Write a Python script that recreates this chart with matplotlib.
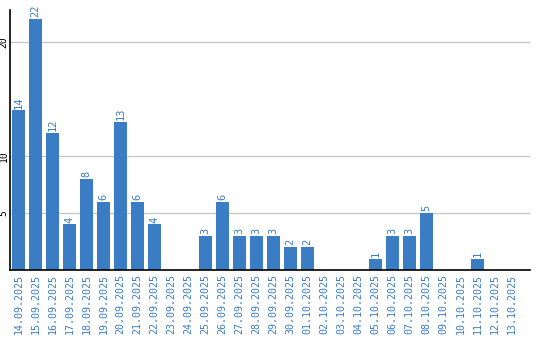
import matplotlib
matplotlib.use('Agg')
import matplotlib.pyplot as plt
import numpy as np

dates = ['14.09.2025', '15.09.2025', '16.09.2025', '17.09.2025', '18.09.2025',
         '19.09.2025', '20.09.2025', '21.09.2025', '22.09.2025', '23.09.2025',
         '24.09.2025', '25.09.2025', '26.09.2025', '27.09.2025', '28.09.2025',
         '29.09.2025', '30.09.2025', '01.10.2025', '02.10.2025', '03.10.2025',
         '04.10.2025', '05.10.2025', '06.10.2025', '07.10.2025', '08.10.2025',
         '09.10.2025', '10.10.2025', '11.10.2025', '12.10.2025', '13.10.2025']
counts = [14, 22, 12, 4, 8, 6, 13, 6, 4, 0,
          0, 3, 6, 3, 3, 3, 2, 2, 0, 0,
          0, 1, 3, 3, 5, 0, 0, 1, 0, 0]
yticks = [5, 10, 20]

blue = '#3b7dc4'

fig = plt.figure(figsize=(5.4, 3.4), dpi=100)
ax = fig.add_axes([10/540, 70/340, 520/540, 260/340])

x = np.arange(len(dates))
ax.bar(x, counts, width=0.82, color=blue, zorder=2)

for xi, v in zip(x, counts):
    if v > 0:
        ax.text(xi, v + 0.15, str(v), rotation=90, ha='center', va='bottom',
                color=blue, fontsize=7.5, family='DejaVu Sans Mono')

ax.set_xlim(-0.5, -0.5 + 520 / 17)
ax.set_ylim(0, 22 * 260 / 251)
ax.set_xticks(x)
ax.set_xticklabels(dates, rotation=90, color=blue, fontsize=7.2,
                   family='DejaVu Sans Mono')
ax.set_yticks(yticks)
ax.set_yticklabels([str(t) for t in yticks], rotation=90, va='center',
                   fontsize=7, family='DejaVu Sans Mono')
ax.tick_params(axis='x', length=0, pad=3)
ax.tick_params(axis='y', length=0, pad=1)
ax.yaxis.grid(True, color='#c8c8c8', linewidth=1, zorder=0)
ax.spines['top'].set_visible(False)
ax.spines['right'].set_visible(False)
ax.spines['left'].set_linewidth(1.2)
ax.spines['bottom'].set_linewidth(1.2)

fig.savefig('out.png', dpi=100)
